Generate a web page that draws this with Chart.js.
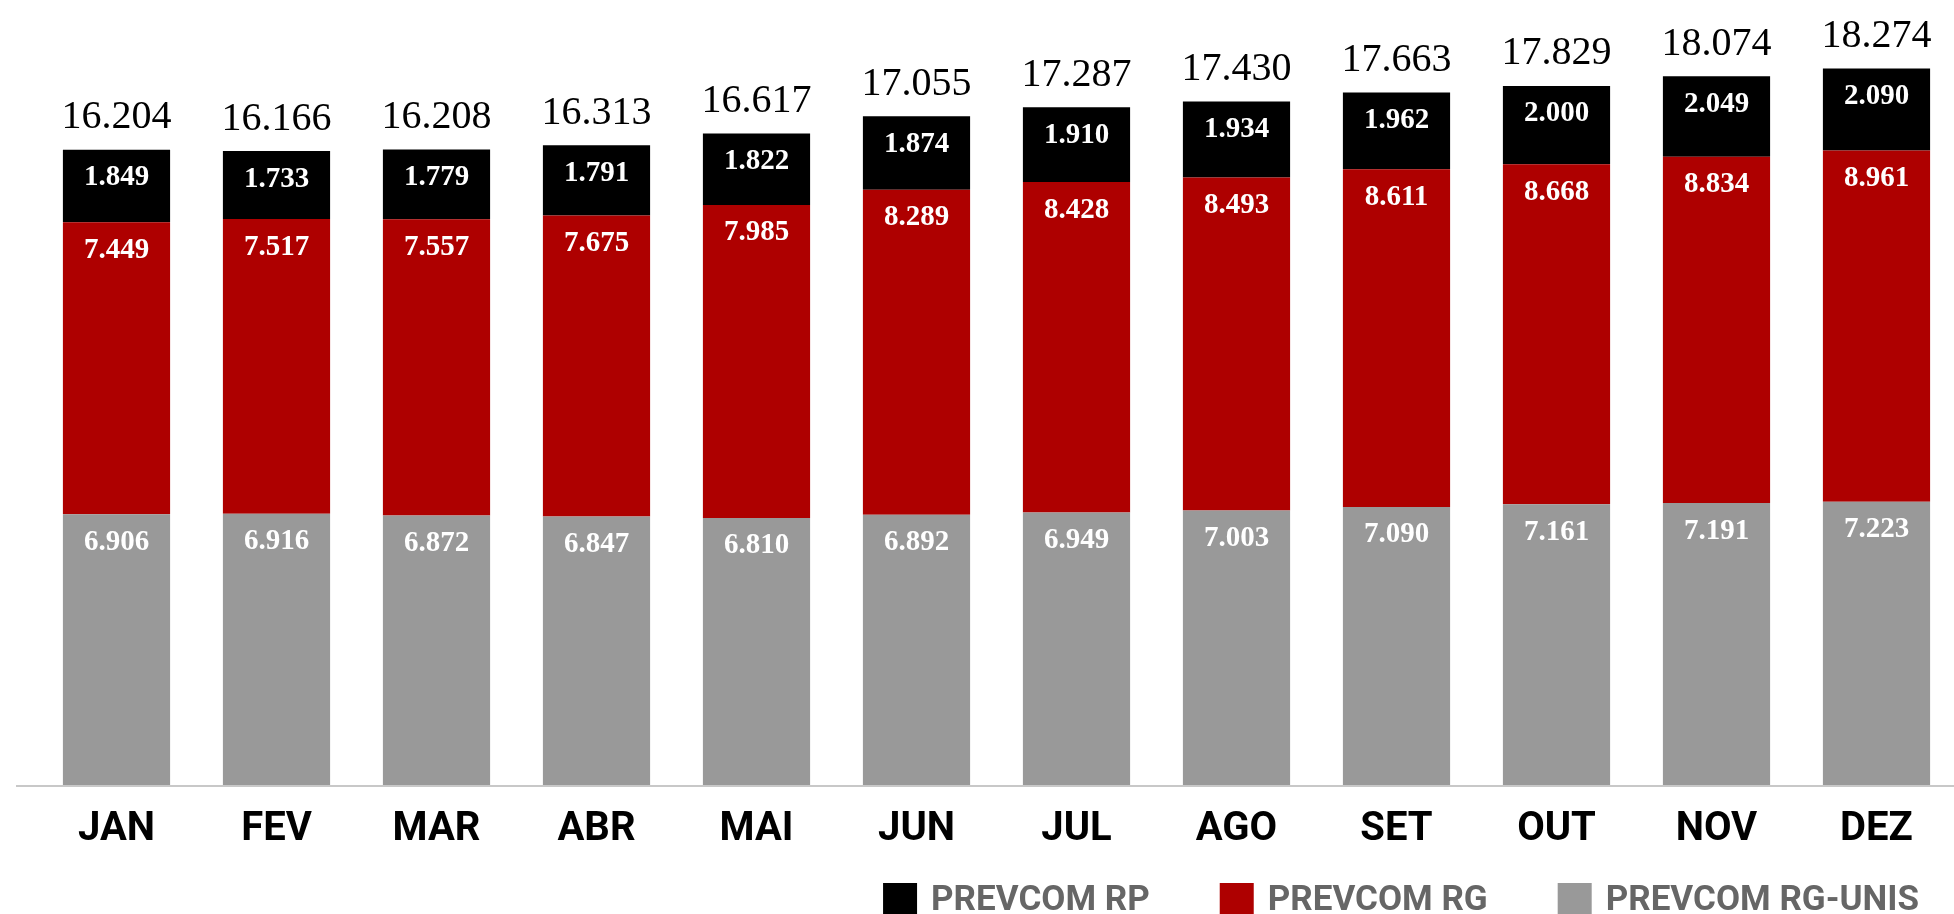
<!DOCTYPE html>
<html>
<head>
<meta charset="utf-8">
<title>PREVCOM</title>
<script src="https://cdn.jsdelivr.net/npm/chart.js@4.4.1/dist/chart.umd.min.js"></script>
<style>
  html, body { margin: 0; padding: 0; background: #fff; overflow: hidden; }
  #wrap { width: 1954px; height: 914px; overflow: hidden; }
</style>
</head>
<body>
<div id="wrap"><canvas id="chart" width="1960" height="914"></canvas></div>
<script>
const months = ['JAN', 'FEV', 'MAR', 'ABR', 'MAI', 'JUN', 'JUL', 'AGO', 'SET', 'OUT', 'NOV', 'DEZ'];
const rgUnis = [6906, 6916, 6872, 6847, 6810, 6892, 6949, 7003, 7090, 7161, 7191, 7223];
const rg = [7449, 7517, 7557, 7675, 7985, 8289, 8428, 8493, 8611, 8668, 8834, 8961];
const rp = [1849, 1733, 1779, 1791, 1822, 1874, 1910, 1934, 1962, 2000, 2049, 2090];
const totals = [16204, 16166, 16208, 16313, 16617, 17055, 17287, 17430, 17663, 17829, 18074, 18274];

const seriesNames = ['PREVCOM RG-UNIS', 'PREVCOM RG', 'PREVCOM RP'];
const seriesColors = ['#999999', '#ae0000', '#000000'];

// 16204 -> "16.204"
function fmt(n) {
    return String(n).replace(/\B(?=(\d{3})+(?!\d))/g, '.');
}

// values inside each segment + total above each stack
const valueLabels = {
    id: 'valueLabels',
    afterDatasetsDraw(chart) {
        const ctx = chart.ctx;
        ctx.save();
        ctx.textAlign = 'center';
        ctx.textBaseline = 'middle';
        ctx.fillStyle = '#ffffff';
        ctx.font = 'bold 29px "Liberation Serif"';
        chart.data.datasets.forEach((ds, i) => {
            chart.getDatasetMeta(i).data.forEach((bar, j) => {
                ctx.fillText(fmt(ds.data[j]), bar.x, bar.y + 28);
            });
        });
        const topMeta = chart.getDatasetMeta(chart.data.datasets.length - 1);
        ctx.fillStyle = '#000000';
        ctx.font = '40px "Liberation Serif"';
        topMeta.data.forEach((bar, j) => {
            ctx.fillText(fmt(totals[j]), bar.x, bar.y - 32);
        });
        ctx.restore();
    }
};

// baseline that runs a bit past the first bar
const baseLine = {
    id: 'baseLine',
    afterDatasetsDraw(chart) {
        const ctx = chart.ctx;
        const y = chart.chartArea.bottom + 1;
        ctx.save();
        ctx.strokeStyle = '#c8c8c8';
        ctx.lineWidth = 2;
        ctx.beginPath();
        ctx.moveTo(16, y);
        ctx.lineTo(chart.width, y);
        ctx.stroke();
        ctx.restore();
    }
};

// legend at bottom right, reversed order (RP, RG, RG-UNIS)
const bottomLegend = {
    id: 'bottomLegend',
    afterDraw(chart) {
        const ctx = chart.ctx;
        ctx.save();
        ctx.font = 'bold 35px Roboto';
        ctx.textBaseline = 'middle';
        ctx.textAlign = 'left';
        let x = 1919;
        chart.data.datasets.forEach((ds) => {
            const w = ctx.measureText(ds.label).width;
            const textLeft = x - w;
            ctx.fillStyle = '#666666';
            ctx.fillText(ds.label, textLeft, 901);
            const boxLeft = textLeft - 14 - 34;
            ctx.fillStyle = ds.backgroundColor;
            ctx.fillRect(boxLeft, 883, 34, 34);
            x = boxLeft - 70;
        });
        ctx.restore();
    }
};

const ctx = document.getElementById('chart').getContext('2d');
const chart = new Chart(ctx, {
    type: 'bar',
    data: {
        labels: months,
        datasets: [
            { label: seriesNames[0], data: rgUnis, backgroundColor: seriesColors[0] },
            { label: seriesNames[1], data: rg, backgroundColor: seriesColors[1] },
            { label: seriesNames[2], data: rp, backgroundColor: seriesColors[2] }
        ]
    },
    options: {
        responsive: false,
        animation: false,
        devicePixelRatio: 1,
        layout: {
            padding: { left: 36.5, right: 3.5, top: 40, bottom: 39 }
        },
        datasets: {
            bar: { categoryPercentage: 1, barPercentage: 0.67 }
        },
        plugins: {
            legend: { display: false },
            tooltip: { enabled: false }
        },
        scales: {
            x: {
                stacked: true,
                grid: { display: false, drawTicks: false },
                border: { display: false },
                ticks: {
                    color: '#000000',
                    padding: 21,
                    font: { family: 'Roboto', size: 40, weight: 'bold' }
                }
            },
            y: {
                stacked: true,
                display: false,
                min: 0,
                max: 19000
            }
        }
    },
    plugins: [valueLabels, baseLine, bottomLegend]
});
</script>
</body>
</html>
